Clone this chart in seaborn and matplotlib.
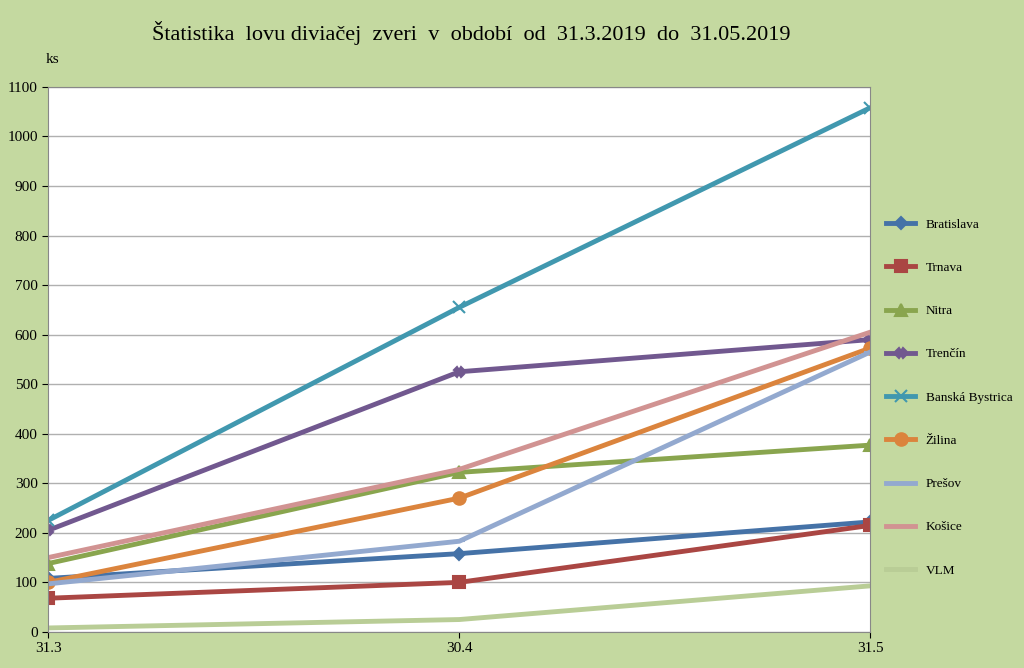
import pandas as pd
import matplotlib.pyplot as plt
import seaborn as sns

# Data
dates = ["31.3", "30.4", "31.5"]
bratislava = [108, 158, 222]
trnava = [68, 100, 215]
nitra = [138, 322, 377]
trencin = [205, 525, 590]
banska_bystrica = [225, 655, 1058]
zilina = [100, 270, 573]
presov = [97, 183, 565]
kosice = [150, 328, 605]
vlm = [8, 25, 93]

series = {
    "Bratislava": bratislava,
    "Trnava": trnava,
    "Nitra": nitra,
    "Trenčín": trencin,
    "Banská Bystrica": banska_bystrica,
    "Žilina": zilina,
    "Prešov": presov,
    "Košice": kosice,
    "VLM": vlm,
}
colors = ["#4572a7", "#aa4643", "#89a54e", "#71588f", "#4198af",
          "#db843d", "#93a9cf", "#d19392", "#b9cd96"]
markers = ["D", "s", "^", "X", "x", "o", "_", "", ""]
msizes = [6, 8, 9, 7, 8, 9, 8, 0, 0]

bg = "#c4d9a0"
plt.rcParams["font.family"] = "Liberation Serif"

fig = plt.figure(figsize=(10.24, 6.68), dpi=100, facecolor=bg)
ax = fig.add_axes([0.047, 0.054, 0.803, 0.816])
ax.set_facecolor("white")

for (name, vals), c, m, ms in zip(series.items(), colors, markers, msizes):
    df = pd.DataFrame({"x": range(len(dates)), "y": vals})
    sns.lineplot(data=df, x="x", y="y", ax=ax, color=c, linewidth=3.5,
                 marker=m if m else None, markersize=ms,
                 markeredgecolor=c, markeredgewidth=1.5, label=name)

ax.set_xlim(0, 2)
ax.set_ylim(0, 1100)
ax.set_xticks(range(len(dates)))
ax.set_xticklabels(dates)
ax.set_yticks(range(0, 1101, 100))
ax.yaxis.grid(True, color="#b0b0b0", linewidth=1)
ax.set_axisbelow(True)
ax.set_xlabel("")
ax.set_ylabel("")
ax.tick_params(labelsize=11, length=4)
for s in ax.spines.values():
    s.set_color("#888888")

fig.text(0.045, 0.905, "ks", fontsize=11)
fig.text(0.46, 0.94, "Štatistika  lovu diviačej  zveri  v  období  od  31.3.2019  do  31.05.2019",
         ha="center", fontsize=16)

leg = ax.legend(loc="center left", bbox_to_anchor=(1.0, 0.43), frameon=False,
                fontsize=9.5, labelspacing=2.35, handlelength=2.2, borderaxespad=0.8)

plt.savefig("out.png", dpi=100, facecolor=bg)
plt.close()
